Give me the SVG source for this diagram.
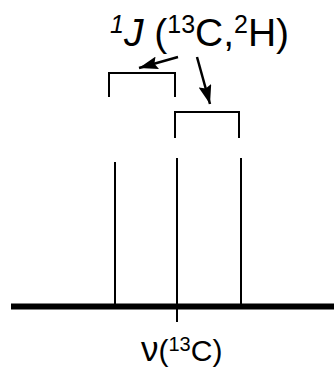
<svg xmlns="http://www.w3.org/2000/svg" width="334" height="370" viewBox="0 0 334 370">
<defs>
<marker id="ah" markerWidth="20" markerHeight="13" refX="19" refY="6.5" orient="auto" markerUnits="userSpaceOnUse">
<path d="M0,0 L19,6.5 L0,13 L3,6.5 Z" fill="#000"/>
</marker>
<style>
.t{font-family:"Liberation Sans",Arial,sans-serif;fill:#000}
.ln{stroke:#000;stroke-width:2;fill:none}
.ar{stroke:#000;stroke-width:2.5;fill:none}
</style>
</defs>
<rect width="334" height="370" fill="#fff"/>
<g id="axis">
<line x1="11" y1="306.5" x2="334" y2="306.5" stroke="#000" stroke-width="6"/>
<line class="ln" x1="177" y1="306" x2="177" y2="322"/>
</g>
<g id="peaks">
<line class="ln" x1="115" y1="162" x2="115" y2="307"/>
<line class="ln" x1="177" y1="158" x2="177" y2="307"/>
<line class="ln" x1="241" y1="158" x2="241" y2="307"/>
</g>
<g id="brackets">
<path class="ln" d="M109,97 V73 H175 V97"/>
<path class="ln" d="M175,138 V112 H239 V138"/>
</g>
<g id="connectors">
<line class="ar" x1="178" y1="57" x2="139" y2="68" marker-end="url(#ah)"/>
<line class="ar" x1="197" y1="57" x2="210" y2="104" marker-end="url(#ah)"/>
</g>
<g id="title">
<text class="t" x="110" y="46" font-size="39"><tspan font-size="25" font-style="italic" dy="-13">1</tspan><tspan font-style="italic" dy="13">J</tspan> (<tspan font-size="25" dy="-13">13</tspan><tspan dy="13">C,</tspan><tspan font-size="25" dy="-13">2</tspan><tspan dy="13">H)</tspan></text>
</g>
<g id="label">
<text class="t" x="141" y="361" font-size="30"><tspan font-size="35">ν</tspan>(<tspan font-size="20" dy="-10">13</tspan><tspan dy="10">C)</tspan></text>
</g>
</svg>
